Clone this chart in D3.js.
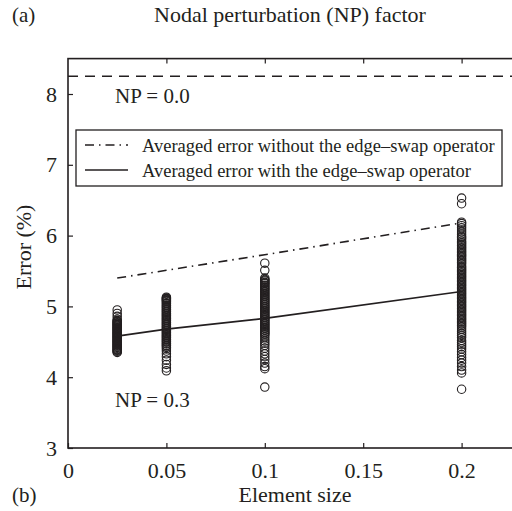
<!DOCTYPE html>
<html>
<head>
<meta charset="utf-8">
<script src="https://cdn.jsdelivr.net/npm/d3@7/dist/d3.min.js"></script>
<style>
  html, body { margin: 0; padding: 0; background: #fff; }
  svg { display: block; }
  text { font-family: "Liberation Serif", "DejaVu Serif", serif; fill: #231f20; }
</style>
</head>
<body>
<svg id="chart" width="512" height="511"></svg>
<script>
// Element sizes at which the meshes were generated
const elementSizes = [0.025, 0.05, 0.1, 0.2];

// Individual run errors (%) with the edge-swap operator, NP = 0.3
const errors025 = [4.95, 4.90, 4.86, 4.82, 4.80, 4.79, 4.78, 4.77, 4.76, 4.75, 4.74, 4.73, 4.72, 4.71,
  4.70, 4.69, 4.68, 4.67, 4.66, 4.65, 4.64, 4.63, 4.62, 4.61, 4.60, 4.59, 4.58, 4.57, 4.56, 4.55,
  4.54, 4.53, 4.52, 4.51, 4.50, 4.49, 4.48, 4.47, 4.46, 4.45, 4.44, 4.43, 4.42, 4.41, 4.40, 4.39,
  4.38, 4.37, 4.36, 4.35];
const errors05 = [5.13, 5.12, 5.11, 5.10, 5.09, 5.08, 5.07, 5.05, 5.04, 5.02, 5.01, 4.99, 4.98, 4.96,
  4.95, 4.93, 4.92, 4.90, 4.89, 4.87, 4.86, 4.84, 4.83, 4.81, 4.80, 4.78, 4.77, 4.75, 4.74, 4.72,
  4.71, 4.69, 4.68, 4.66, 4.65, 4.63, 4.62, 4.60, 4.59, 4.57, 4.56, 4.54, 4.53, 4.51, 4.50, 4.48,
  4.47, 4.45, 4.44, 4.42, 4.40, 4.37, 4.33, 4.29, 4.24, 4.18, 4.13, 4.09];
const errors1 = [5.61, 5.51, 5.40, 5.38, 5.37, 5.36, 5.34, 5.33, 5.32, 5.30, 5.29, 5.27, 5.26, 5.24,
  5.23, 5.21, 5.20, 5.18, 5.17, 5.15, 5.14, 5.12, 5.11, 5.09, 5.08, 5.06, 5.05, 5.03, 5.02, 5.00,
  4.99, 4.97, 4.96, 4.94, 4.93, 4.91, 4.90, 4.88, 4.87, 4.85, 4.84, 4.82, 4.81, 4.79, 4.78, 4.76,
  4.75, 4.73, 4.72, 4.70, 4.69, 4.67, 4.66, 4.64, 4.63, 4.61, 4.60, 4.57, 4.54, 4.51, 4.48, 4.45,
  4.41, 4.37, 4.33, 4.29, 4.25, 4.20, 4.15, 4.12, 3.86];
const errors2 = [6.53, 6.45, 6.19, 6.17, 6.14, 6.11, 6.08, 6.05, 6.02, 5.99, 5.97, 5.95, 5.92, 5.90,
  5.88, 5.86, 5.84, 5.82, 5.80, 5.78, 5.76, 5.74, 5.72, 5.70, 5.68, 5.66, 5.64, 5.62, 5.60, 5.57,
  5.55, 5.53, 5.51, 5.49, 5.47, 5.45, 5.43, 5.41, 5.39, 5.37, 5.35, 5.33, 5.31, 5.29, 5.27, 5.25,
  5.23, 5.21, 5.19, 5.17, 5.15, 5.13, 5.11, 5.09, 5.07, 5.05, 5.03, 5.01, 4.99, 4.97, 4.95, 4.93,
  4.91, 4.89, 4.87, 4.85, 4.83, 4.81, 4.79, 4.77, 4.75, 4.73, 4.71, 4.68, 4.65, 4.62, 4.59, 4.56,
  4.52, 4.49, 4.46, 4.43, 4.40, 4.36, 4.32, 4.28, 4.24, 4.20, 4.15, 4.10, 4.06, 3.83];
const runErrors = [errors025, errors05, errors1, errors2];

// Averaged errors (%) per element size
const avgWithoutSwap = [5.40, 5.51, 5.73, 6.18];
const avgWithSwap = [4.58, 4.68, 4.83, 5.21];

// Reference error for the unperturbed mesh (NP = 0.0)
const unperturbedError = 8.25;

const xTicks = [0, 0.05, 0.1, 0.15, 0.2];
const xTickLabels = ["0", "0.05", "0.1", "0.15", "0.2"];
const yTicks = [3, 4, 5, 6, 7, 8];

const svg = d3.select("#chart");
const ink = "#231f20";

const x = d3.scaleLinear().domain([0, 0.25]).range([68, 560]);
const y = d3.scaleLinear().domain([3, 8.5]).range([448, 58.6]);

// Axes frame (the right side lies outside the drawing)
svg.append("rect")
  .attr("x", x(0)).attr("y", y(8.5))
  .attr("width", x(0.25) - x(0)).attr("height", y(3) - y(8.5))
  .attr("fill", "none").attr("stroke", ink).attr("stroke-width", 1.6);

const fmtX = d => xTickLabels[xTicks.indexOf(d)] ?? "";

const xAxis = svg.append("g")
  .attr("transform", `translate(0,${y(3)})`)
  .call(d3.axisBottom(x).tickValues(xTicks).tickSize(-5).tickPadding(14).tickFormat(fmtX));
xAxis.select(".domain").remove();
xAxis.selectAll("text").attr("font-size", 22).attr("fill", ink)
  .attr("font-family", "Liberation Serif");
xAxis.selectAll("line").attr("stroke", ink).attr("stroke-width", 1.2);

const xAxisTop = svg.append("g")
  .attr("transform", `translate(0,${y(8.5)})`)
  .call(d3.axisTop(x).tickValues(xTicks.slice(1)).tickSize(-5).tickFormat(""));
xAxisTop.select(".domain").remove();
xAxisTop.selectAll("line").attr("stroke", ink).attr("stroke-width", 1.2);

const yAxis = svg.append("g")
  .attr("transform", `translate(${x(0)},0)`)
  .call(d3.axisLeft(y).tickValues(yTicks).tickSize(-5).tickPadding(11).tickFormat(d3.format("d")));
yAxis.select(".domain").remove();
yAxis.selectAll("text").attr("font-size", 22).attr("fill", ink)
  .attr("font-family", "Liberation Serif");
yAxis.selectAll("line").attr("stroke", ink).attr("stroke-width", 1.2);

// Unperturbed reference line
svg.append("line")
  .attr("x1", x(0)).attr("x2", x(0.25))
  .attr("y1", y(unperturbedError)).attr("y2", y(unperturbedError))
  .attr("stroke", ink).attr("stroke-width", 1.6)
  .attr("stroke-dasharray", "10,7");

// Individual runs as open circles
const points = runErrors.flatMap((vals, i) => vals.map(v => ({ size: elementSizes[i], err: v })));
svg.append("g").selectAll("circle")
  .data(points)
  .join("circle")
  .attr("cx", d => x(d.size))
  .attr("cy", d => y(d.err))
  .attr("r", 4.2)
  .attr("fill", "none")
  .attr("stroke", ink)
  .attr("stroke-width", 1.1);

// Averaged error curves
const line = d3.line().x((d, i) => x(elementSizes[i])).y(d => y(d));
svg.append("path")
  .datum(avgWithoutSwap)
  .attr("d", line)
  .attr("fill", "none").attr("stroke", ink).attr("stroke-width", 1.6)
  .attr("stroke-dasharray", "9,5,1.5,5");
svg.append("path")
  .datum(avgWithSwap)
  .attr("d", line)
  .attr("fill", "none").attr("stroke", ink).attr("stroke-width", 1.7);

// Legend
const legend = svg.append("g");
legend.append("rect")
  .attr("x", 76).attr("y", 130).attr("width", 426).attr("height", 56)
  .attr("fill", "#fff").attr("stroke", ink).attr("stroke-width", 1.3);
const legendItems = [
  { label: "Averaged error without the edge\u2013swap operator", dash: "9,5,1.5,5", y: 145 },
  { label: "Averaged error with the edge\u2013swap operator", dash: null, y: 170 }
];
legendItems.forEach(it => {
  legend.append("line")
    .attr("x1", 85).attr("x2", 128).attr("y1", it.y).attr("y2", it.y)
    .attr("stroke", ink).attr("stroke-width", 1.6)
    .attr("stroke-dasharray", it.dash);
  legend.append("text")
    .attr("x", 142).attr("y", it.y + 6.5)
    .attr("font-size", 18.5)
    .text(it.label);
});

// Annotations
svg.append("text").attr("x", 115).attr("y", 103).attr("font-size", 21).text("NP = 0.0");
svg.append("text").attr("x", 115).attr("y", 407).attr("font-size", 21).text("NP = 0.3");

svg.append("text").attr("x", 12).attr("y", 22).attr("font-size", 21).text("(a)");
svg.append("text").attr("x", 290).attr("y", 22).attr("font-size", 22)
  .attr("text-anchor", "middle").text("Nodal perturbation (NP) factor");
svg.append("text").attr("x", 12).attr("y", 502).attr("font-size", 21).text("(b)");
svg.append("text").attr("x", 295).attr("y", 502).attr("font-size", 22)
  .attr("text-anchor", "middle").text("Element size");
svg.append("text")
  .attr("transform", "translate(31,247) rotate(-90)")
  .attr("font-size", 22).attr("text-anchor", "middle").text("Error (%)");
</script>
</body>
</html>
